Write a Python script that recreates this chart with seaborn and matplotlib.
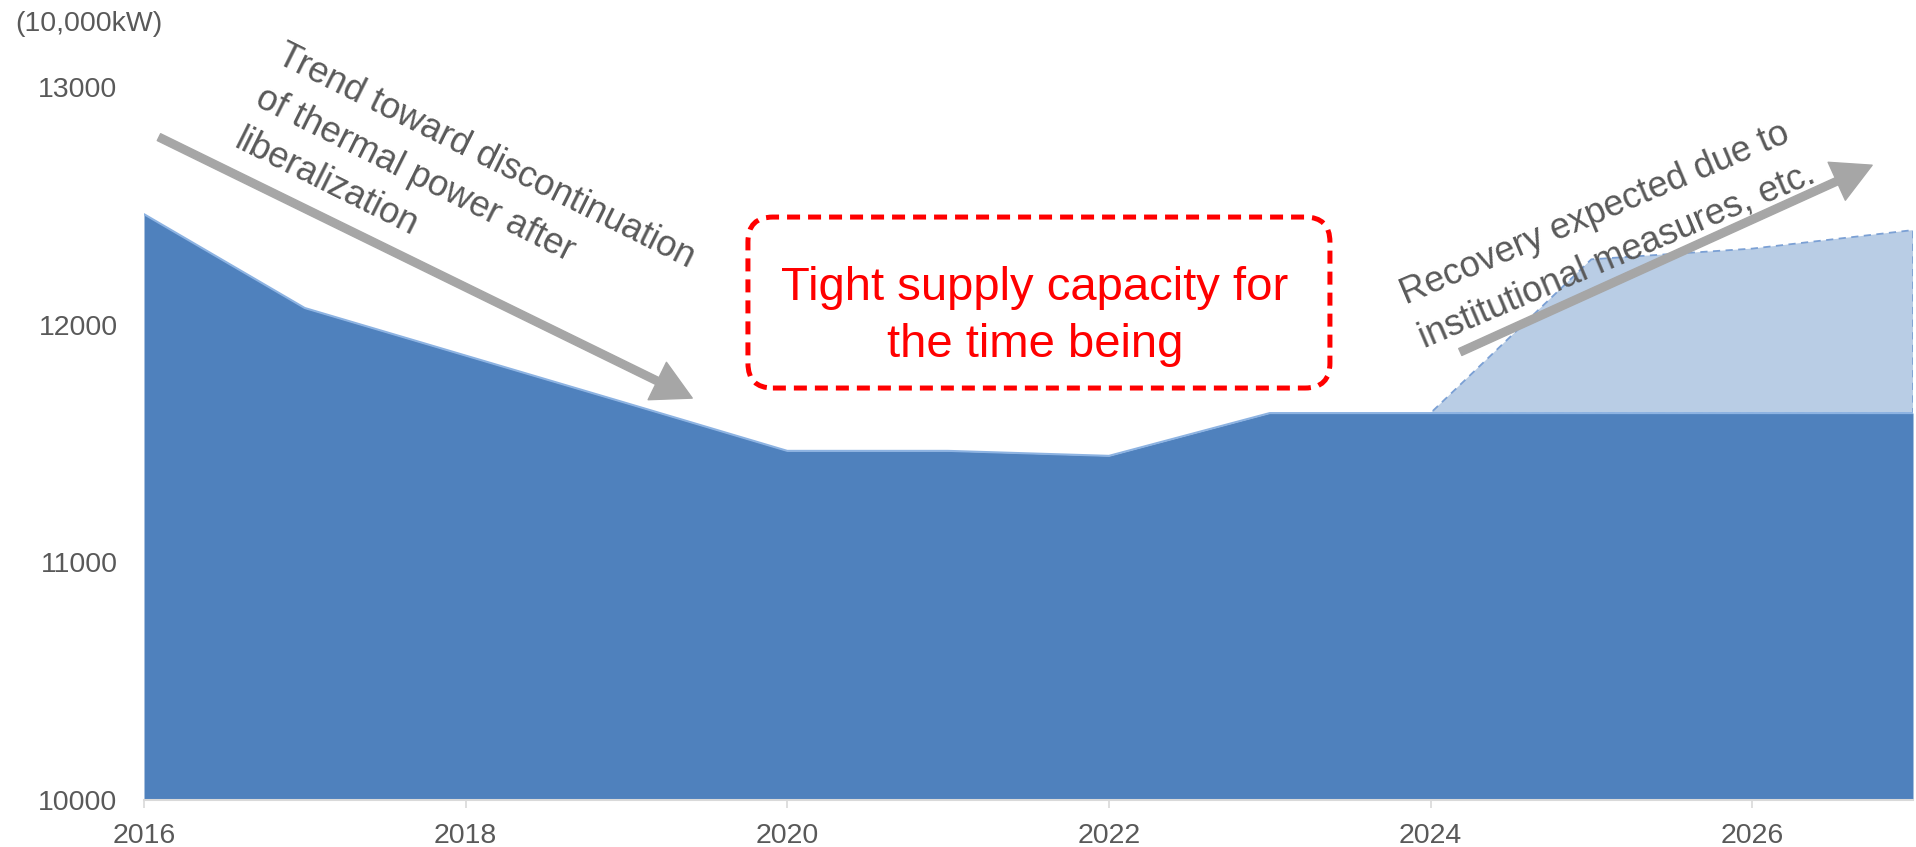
import matplotlib
matplotlib.use('Agg')
import matplotlib.pyplot as plt
import seaborn as sns
from matplotlib.patches import FancyBboxPatch, FancyArrowPatch

# ---- data ----
years = [2016, 2017, 2018, 2019, 2020, 2021, 2022, 2023, 2024, 2025, 2026, 2027]
supply_capacity = [12465, 12070, 11870, 11670, 11469, 11469, 11448, 11628, 11628, 11628, 11628, 11628]
recovery_years = [2024, 2025, 2026, 2027]
recovery_capacity = [11628, 12275, 12320, 12398]
x_ticks = [2016, 2018, 2020, 2022, 2024, 2026]
y_ticks = [10000, 11000, 12000, 13000]
unit_label = "(10,000kW)"
note_decline = "Trend toward discontinuation\nof thermal power after\nliberalization"
note_recovery = "Recovery expected due to\ninstitutional measures, etc."
note_tight = "Tight supply capacity for\nthe time being"

DARK = '#4F81BD'
LIGHT = '#B9CDE5'
GRAY_TXT = '#595959'
ARROW = '#A6A6A6'

sns.set_theme(style='white')
plt.rcParams['font.family'] = ['Liberation Sans', 'DejaVu Sans']

W, H = 1916, 847
fig = plt.figure(figsize=(W / 100, H / 100), dpi=100)
ax = fig.add_axes([144 / W, 1 - 800 / H, (1913 - 144) / W, (800 - 87) / H])

# light (projected recovery) area, behind
base = [supply_capacity[years.index(y)] for y in recovery_years]
ax.fill_between(recovery_years, base, recovery_capacity, facecolor=LIGHT,
                edgecolor='#7BA0D4', linestyle=(0, (4, 3)), linewidth=1.3, zorder=1)

# dark main area
ax.fill_between(years, 10000, supply_capacity, color=DARK, linewidth=0, zorder=2)
sns.lineplot(x=years, y=supply_capacity, color='#8DB3E2', linewidth=1.5, ax=ax, zorder=3)

ax.set_xlim(2016, 2027)
ax.set_ylim(10000, 13000)
ax.set_xticks(x_ticks)
ax.set_yticks(y_ticks)
ax.set_xlabel('')
ax.set_ylabel('')
ax.grid(False)
for s in ['left', 'top', 'right']:
    ax.spines[s].set_visible(False)
ax.spines['bottom'].set_color('#D9D9D9')
ax.spines['bottom'].set_linewidth(1.5)
ax.spines['bottom'].set_zorder(4)
ax.tick_params(axis='x', bottom=True, length=6, width=1.2, color='#D9D9D9',
               pad=10.5, labelsize=20.5, labelcolor=GRAY_TXT)
ax.tick_params(axis='y', left=False, length=0, pad=19, labelsize=20.5, labelcolor=GRAY_TXT)

fig.text(15 / W, 1 - 24 / H, unit_label, ha='left', va='center', fontsize=20.5, color=GRAY_TXT)

# arrows
arrow_kw = dict(arrowstyle='simple,head_length=2.8,head_width=3.0,tail_width=0.55',
                mutation_scale=10, color=ARROW, shrinkA=0, shrinkB=0, zorder=6)
a1 = FancyArrowPatch((2016.093, 12789), (2019.409, 11691), **arrow_kw)
a1.set_clip_on(False)
ax.add_patch(a1)
a2 = FancyArrowPatch((2024.185, 11885), (2026.746, 12671), **arrow_kw)
a2.set_clip_on(False)
ax.add_patch(a2)

# annotation texts
ax.text(2016.89, 13205, note_decline, rotation=-26.5, rotation_mode='anchor',
        ha='left', va='top', fontsize=26, color=GRAY_TXT, linespacing=1.45,
        zorder=7, clip_on=False)
ax.text(2023.78, 12190, note_recovery, rotation=23, rotation_mode='anchor',
        ha='left', va='top', fontsize=26, color=GRAY_TXT, linespacing=1.45,
        zorder=7, clip_on=False)

# red dashed rounded box
aspect = (1913 - 144) / (800 - 87)
box = FancyBboxPatch((0.3414, 0.5778), 0.329, 0.2398,
                     boxstyle='round,pad=0,rounding_size=0.0141',
                     mutation_aspect=aspect, transform=ax.transAxes,
                     fill=False, edgecolor='#FF0000', linewidth=3.6,
                     linestyle=(0, (2.6, 1.6)), zorder=8)
box.set_clip_on(False)
ax.add_patch(box)
ax.text(2021.54, 12036, note_tight, ha='center', va='center', fontsize=34,
        color='#FF0000', linespacing=1.38, zorder=9)

fig.savefig('out.png', dpi=100)
